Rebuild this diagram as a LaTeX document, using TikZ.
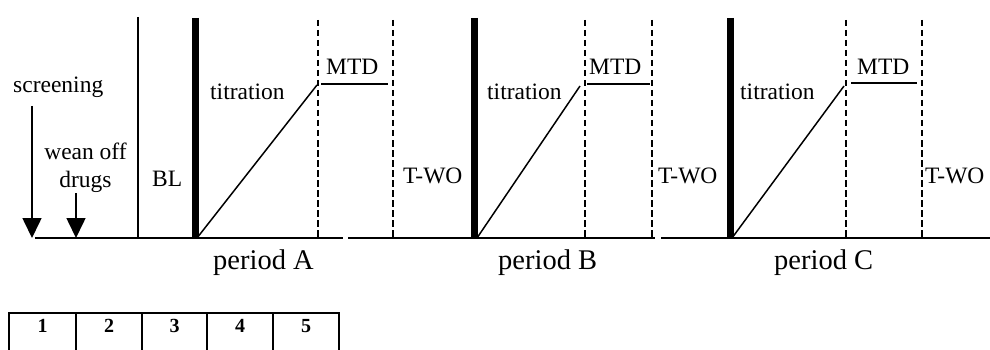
\documentclass[tikz,border=0pt]{standalone}
\usepackage{fontspec}
\setmainfont{Liberation Serif}
\usetikzlibrary{arrows.meta}
\begin{document}
\begin{tikzpicture}[x=1pt,y=-1pt,
  lbl/.style={inner sep=0pt,anchor=base west,font=\fontsize{23.5}{27}\selectfont},
  per/.style={inner sep=0pt,anchor=base west,font=\fontsize{28.5}{32}\selectfont},
  num/.style={inner sep=0pt,anchor=base,font=\bfseries\fontsize{20}{22}\selectfont},
  axis/.style={line width=1.8pt},
  thinv/.style={line width=1.5pt},
  thickv/.style={line width=7pt},
  dashv/.style={line width=1.5pt,dash pattern=on 6.5pt off 3.5pt},
  ramp/.style={line width=1.5pt},
  mtd/.style={line width=1.7pt},
  dnarrow/.style={line width=1.6pt,-{Triangle[width=19pt,length=20pt]}},
  cell/.style={line width=2pt}]
\useasboundingbox (0,0) rectangle (990,350);
\clip (0,0) rectangle (990,350);

% baseline segments
\coordinate (b1s) at (35,238); \coordinate (b1e) at (343,238);
\coordinate (b2s) at (348,238); \coordinate (b2e) at (655,238);
\coordinate (b3s) at (661,238); \coordinate (b3e) at (990,238);
\draw[axis] (b1s) -- (b1e);
\draw[axis] (b2s) -- (b2e);
\draw[axis] (b3s) -- (b3e);

% vertical lines
\coordinate (v0t) at (138,17); \coordinate (v0b) at (138,238);
\draw[thinv] (v0t) -- (v0b);
\foreach \x/\n in {195/A,474/B,730/C}{
  \coordinate (tk\n t) at (\x,18); \coordinate (tk\n b) at (\x,239);
  \draw[thickv] (tk\n t) -- (tk\n b);
}
\foreach \x/\n in {318/a,393/b,585/c,652/d,846/e,922/f}{
  \coordinate (ds\n t) at (\x,20); \coordinate (ds\n b) at (\x,238);
  \draw[dashv] (ds\n t) -- (ds\n b);
}

% ramps and MTD plateaus
\coordinate (rAs) at (197,238); \coordinate (rAe) at (317,85);
\coordinate (rBs) at (477,238); \coordinate (rBe) at (580,86);
\coordinate (rCs) at (732,238); \coordinate (rCe) at (844,86);
\draw[ramp] (rAs) -- (rAe);
\draw[ramp] (rBs) -- (rBe);
\draw[ramp] (rCs) -- (rCe);
\coordinate (mAs) at (321,84); \coordinate (mAe) at (388,84);
\coordinate (mBs) at (587,84); \coordinate (mBe) at (650,84);
\coordinate (mCs) at (851,83); \coordinate (mCe) at (917,83);
\draw[mtd] (mAs) -- (mAe);
\draw[mtd] (mBs) -- (mBe);
\draw[mtd] (mCs) -- (mCe);

% arrows
\coordinate (scrT) at (32,106); \coordinate (scrB) at (32,238);
\coordinate (weaT) at (76,193); \coordinate (weaB) at (76,238);
\draw[dnarrow] (scrT) -- (scrB);
\draw[dnarrow] (weaT) -- (weaB);

% labels
\node[lbl] (screening) at (13,93) {screening};
\node[lbl,anchor=base] (wean) at (85.5,159) {wean off};
\node[lbl,anchor=base] (drugs) at (85.5,187) {drugs};
\node[lbl] (bl) at (152,186) {BL};
\node[lbl] (titA) at (210,100) {titration};
\node[lbl] (titB) at (487,100) {titration};
\node[lbl] (titC) at (740,100) {titration};
\node[lbl] (mtdA) at (326,75) {MTD};
\node[lbl] (mtdB) at (589,75) {MTD};
\node[lbl] (mtdC) at (857,75) {MTD};
\node[lbl] (twoB) at (403,183) {T-WO};
\node[lbl] (twoC) at (658,183) {T-WO};
\node[lbl] (twoD) at (925,183) {T-WO};
\node[per] (perA) at (213,269) {period A};
\node[per] (perB) at (498,269) {period B};
\node[per] (perC) at (774,269) {period C};

% table
\coordinate (tl) at (9,313); \coordinate (tr) at (339,313);
\draw[cell] (tl) -- (tr);
\foreach \x in {9,76,142,207,273,339}{
  \draw[cell] (\x,312) -- (\x,360);
}
\foreach \x/\k in {42.5/1,109/2,174.5/3,240/4,306/5}{
  \node[num] (c\k) at (\x,332) {\k};
}
\end{tikzpicture}
\end{document}
